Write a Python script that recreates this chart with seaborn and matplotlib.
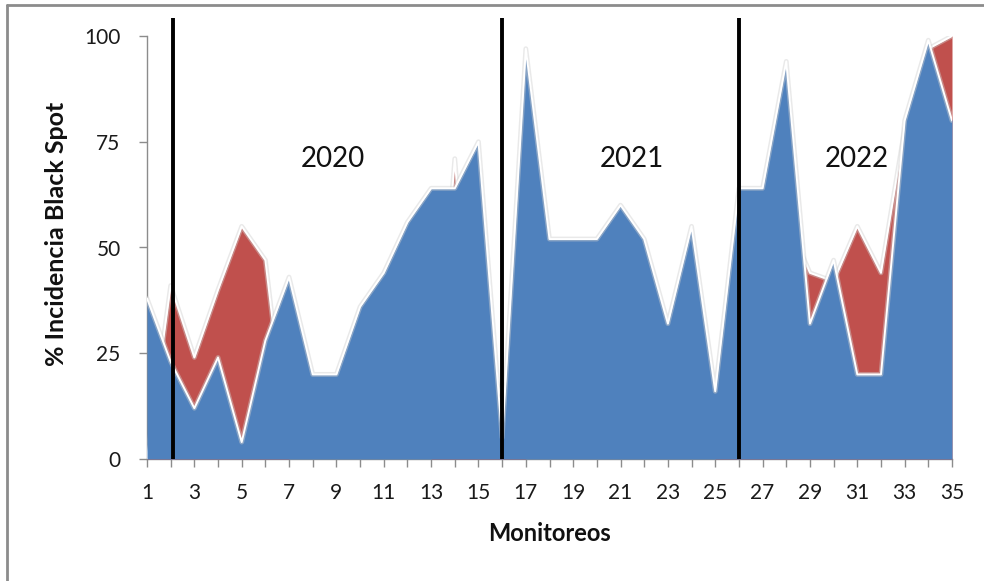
import matplotlib
matplotlib.use("Agg")
import matplotlib.pyplot as plt
import matplotlib.patheffects as pe
from matplotlib.lines import Line2D
import seaborn as sns
import pandas as pd

# ---- data ----
monitoreos = list(range(1, 36))
serie_azul = [38, 23, 12, 24, 4, 28, 43, 20, 20, 36, 44, 56, 64, 64, 75,
              5, 97, 52, 52, 52, 60, 52, 32, 55, 16,
              64, 64, 94, 32, 47, 20, 20, 80, 99, 80]
serie_roja = [0, 41, 24, 40, 55, 47, 0, 0, 0, 0, 0, 0, 0, 71, 0,
              18, 0, 0, 0, 0, 0, 0, 0, 0, 0,
              40, 50, 57, 44, 42, 55, 44, 78, 97, 100]
separadores = [2.1, 16, 26]
anios = ["2020", "2021", "2022"]
anio_x = [8.85, 21.5, 31.0]
anio_y = [71, 71, 71]
y_ticks = [0, 25, 50, 75, 100]
x_tick_labels = list(range(1, 36, 2))

df = pd.DataFrame({"x": monitoreos, "azul": serie_azul, "roja": serie_roja})

sns.set_theme(style="white")
plt.rcParams["font.family"] = ["Lato", "DejaVu Sans"]

fig = plt.figure(figsize=(9.84, 5.81), dpi=100)
W, H = 984, 581
ax = fig.add_axes([147 / W, (H - 459) / H, (952 - 147) / W, (459 - 36) / H])

azul = "#4F81BD"
roja = "#C0504D"
glow = [pe.Stroke(linewidth=3.5, foreground="#d0d0d0", alpha=0.45), pe.Normal()]

ax.fill_between(df["x"], df["roja"], color=roja, lw=0, zorder=1)
sns.lineplot(data=df, x="x", y="roja", ax=ax, color="white", lw=1.4,
             zorder=2, path_effects=glow)
ax.fill_between(df["x"], df["azul"], color=azul, lw=0, zorder=3)
sns.lineplot(data=df, x="x", y="azul", ax=ax, color="white", lw=1.4,
             zorder=4, path_effects=glow)

for xs in separadores:
    ax.plot([xs, xs], [0, 104.3], color="black", lw=2.8, zorder=6,
            clip_on=False, solid_capstyle="butt")

for t, xx, yy in zip(anios, anio_x, anio_y):
    ax.text(xx, yy, t, fontsize=20, ha="center", va="center",
            color="#111111", zorder=7)

ax.set_xlim(1, 35)
ax.set_ylim(0, 100)
ax.set_xticks(monitoreos)
ax.set_xticklabels([str(m) if m in x_tick_labels else "" for m in monitoreos])
ax.set_yticks(y_ticks)
ax.set_yticklabels([str(v) for v in y_ticks])

for s in ["top", "right"]:
    ax.spines[s].set_visible(False)
for s in ["left", "bottom"]:
    ax.spines[s].set_color("#8c8c8c")
    ax.spines[s].set_linewidth(1.0)
    ax.spines[s].set_zorder(0)

ax.tick_params(axis="x", direction="out", length=6, width=1, color="#8c8c8c",
               labelsize=15, labelcolor="#1a1a1a", pad=11, bottom=True)
ax.tick_params(axis="y", direction="out", length=6, width=1, color="#8c8c8c",
               labelsize=15, labelcolor="#1a1a1a", pad=13, left=True)

ax.set_xlabel("Monitoreos", fontsize=17, fontweight="bold", labelpad=14,
              color="#111111")
ax.set_ylabel("% Incidencia Black Spot", fontsize=18, fontweight="bold",
              color="#111111", va="center")
ax.yaxis.set_label_coords(-0.112, 0.532)

# outer chart border (only top and left edges visible in the frame)
fig.add_artist(Line2D([7 / W, 7 / W], [0, 1 - 5 / H], transform=fig.transFigure,
                      color="#8c8c8c", lw=2))
fig.add_artist(Line2D([7 / W, 1], [1 - 5 / H, 1 - 5 / H], transform=fig.transFigure,
                      color="#8c8c8c", lw=2))

fig.savefig("out.png", dpi=100)
